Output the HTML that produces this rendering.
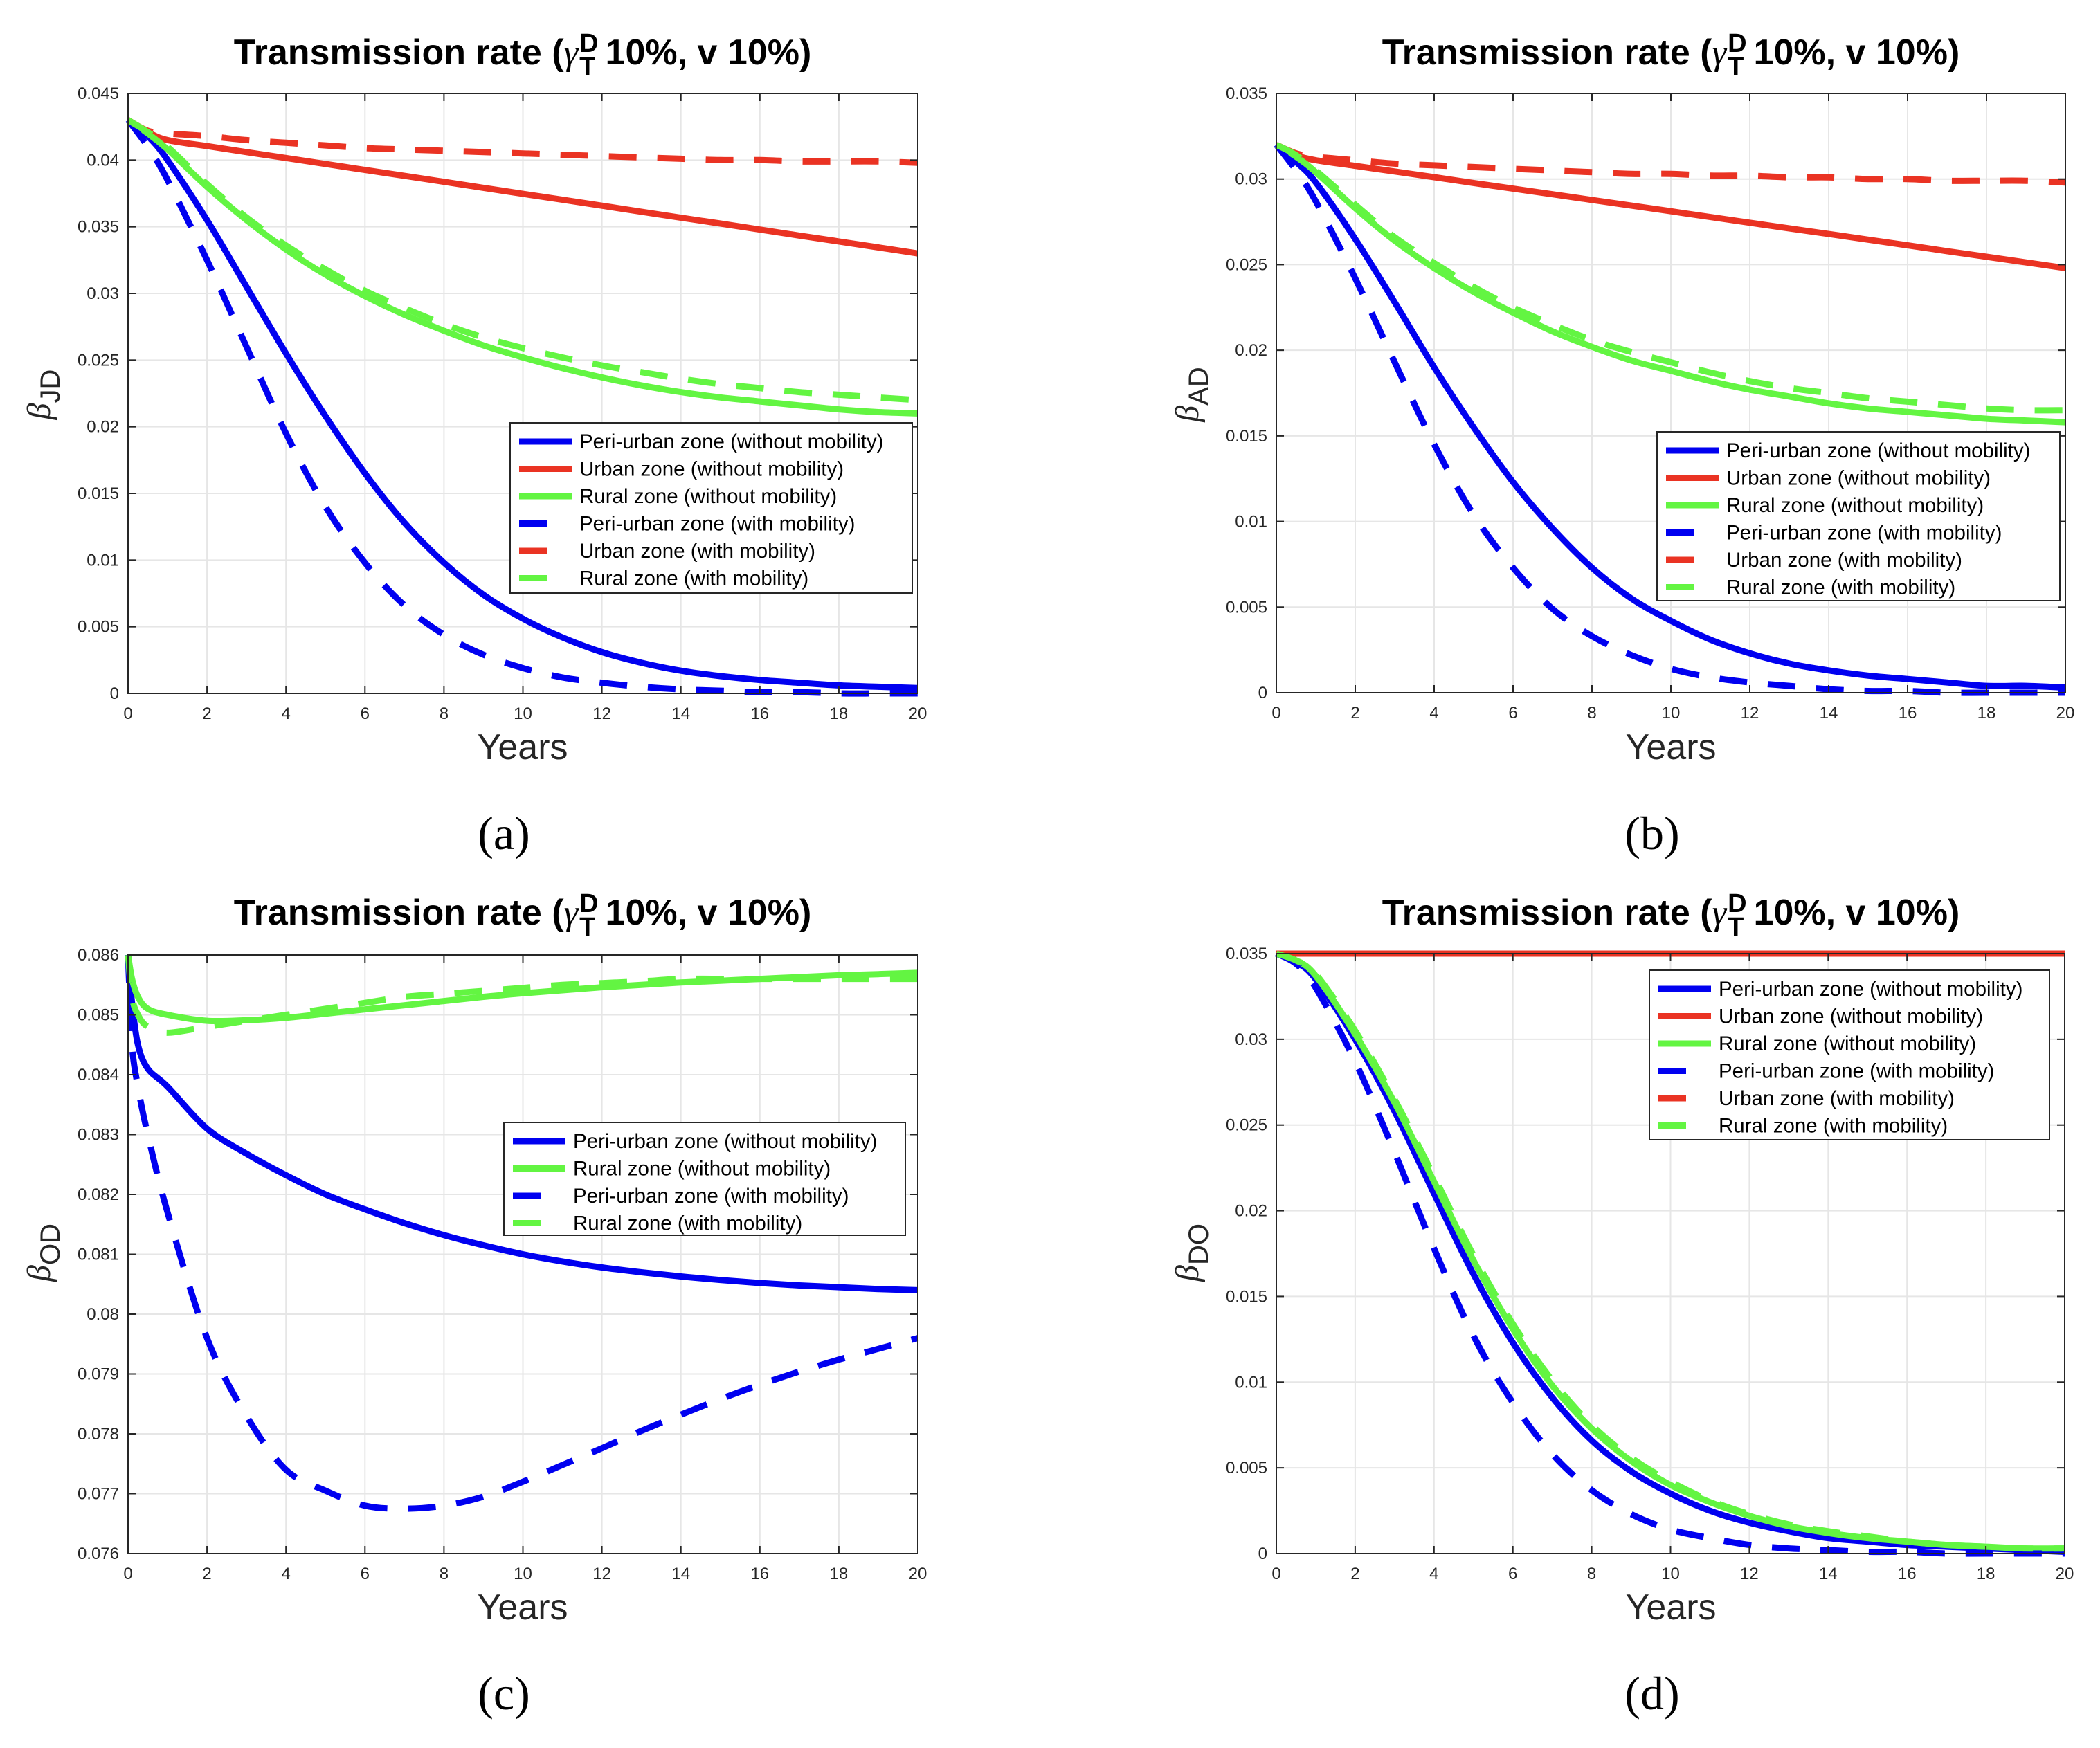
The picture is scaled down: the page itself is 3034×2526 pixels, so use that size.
<!DOCTYPE html>
<html><head><meta charset="utf-8"><style>
body{margin:0;background:#fff;width:3034px;height:2526px;position:relative;overflow:hidden;font-family:"Liberation Sans",sans-serif}
.title{position:absolute;font-weight:bold;font-size:52px;color:#000;white-space:nowrap;transform:translateX(-50%);display:flex;align-items:center}
.ss{display:inline-flex;flex-direction:column;font-size:38px;line-height:34px;margin:0 10px 0 2px;position:relative;top:4px}
.g{font-family:"Liberation Serif",serif;font-style:italic;font-weight:normal}
.xl{position:absolute;font-size:52px;color:#262626;transform:translateX(-50%)}
.cap{position:absolute;font-family:"Liberation Serif",serif;font-size:68px;color:#000;transform:translateX(-50%)}
svg{position:absolute;left:0;top:0}
</style></head><body>
<div class="title" style="left:755px;top:42px">Transmission rate (<span class="g">γ</span><span class="ss"><span>D</span><span>T</span></span>10%, v 10%)</div>
<div class="title" style="left:2414px;top:42px">Transmission rate (<span class="g">γ</span><span class="ss"><span>D</span><span>T</span></span>10%, v 10%)</div>
<div class="title" style="left:755px;top:1285px">Transmission rate (<span class="g">γ</span><span class="ss"><span>D</span><span>T</span></span>10%, v 10%)</div>
<div class="title" style="left:2414px;top:1285px">Transmission rate (<span class="g">γ</span><span class="ss"><span>D</span><span>T</span></span>10%, v 10%)</div>
<div class="xl" style="left:755px;top:1050px">Years</div>
<div class="xl" style="left:2414px;top:1050px">Years</div>
<div class="xl" style="left:755px;top:2293px">Years</div>
<div class="xl" style="left:2414px;top:2293px">Years</div>
<div class="cap" style="left:728px;top:1165px">(a)</div>
<div class="cap" style="left:2387px;top:1165px">(b)</div>
<div class="cap" style="left:728px;top:2408px">(c)</div>
<div class="cap" style="left:2387px;top:2408px">(d)</div>
<svg id="chart" width="3034" height="2526"></svg>
<script>
const years = [0,0.5,1,2,3,4,5,6,7,8,9,10,11,12,13,14,15,16,17,18,19,20];
const yearsC = [0,0.1,0.25,0.5,1,2,3,4,5,6,7,8,9,10,11,12,13,14,15,16,17,18,19,20];
const xTicks = [0,2,4,6,8,10,12,14,16,18,20];
const legendLabels6 = ["Peri-urban zone (without mobility)","Urban zone (without mobility)","Rural zone (without mobility)","Peri-urban zone (with mobility)","Urban zone (with mobility)","Rural zone (with mobility)"];
const legendLabels4 = ["Peri-urban zone (without mobility)","Rural zone (without mobility)","Peri-urban zone (with mobility)","Rural zone (with mobility)"];
// panel a
const aTicks = [0,0.005,0.01,0.015,0.02,0.025,0.03,0.035,0.04,0.045];
const aTickLabels = ["0","0.005","0.01","0.015","0.02","0.025","0.03","0.035","0.04","0.045"];
const aPeri = [0.043,0.0418,0.040,0.0355,0.0305,0.0255,0.0208,0.0165,0.0128,0.0098,0.0074,0.0056,0.0042,0.0031,0.0023,0.0017,0.0013,0.0010,0.0008,0.0006,0.0005,0.0004];
const aUrban = [0.043,0.0421,0.0415,0.04105,0.0406,0.04016,0.03971,0.03926,0.03882,0.03837,0.03792,0.03747,0.03703,0.03658,0.03613,0.03568,0.03524,0.03479,0.03434,0.0339,0.03345,0.0330];
const aRural = [0.043,0.0420,0.0408,0.0380,0.0355,0.0333,0.0314,0.0298,0.0284,0.0272,0.0261,0.0252,0.0244,0.0237,0.0231,0.0226,0.0222,0.0219,0.0216,0.0213,0.0211,0.0210];
const aPeriM = [0.043,0.0410,0.0385,0.0325,0.0260,0.0195,0.0140,0.0098,0.0066,0.0044,0.0029,0.0019,0.0012,0.0008,0.0005,0.0003,0.0002,0.0001,0.0001,0,0,0];
const aUrbanM = [0.043,0.0422,0.0420,0.0418,0.0415,0.0413,0.0411,0.0409,0.0408,0.0407,0.0406,0.0405,0.0404,0.0403,0.0402,0.0401,0.0400,0.0400,0.0399,0.0399,0.0399,0.0398];
const aRuralM = [0.043,0.0421,0.0410,0.0382,0.0357,0.0336,0.0318,0.0302,0.0289,0.0277,0.0267,0.0259,0.0252,0.0246,0.0241,0.0236,0.0232,0.0229,0.0226,0.0224,0.0222,0.0220];
// panel b
const bTicks = [0,0.005,0.01,0.015,0.02,0.025,0.03,0.035];
const bTickLabels = ["0","0.005","0.01","0.015","0.02","0.025","0.03","0.035"];
const bPeri = [0.032,0.0310,0.0298,0.0265,0.0228,0.0190,0.0155,0.0123,0.0096,0.0073,0.0055,0.0042,0.0031,0.0023,0.0017,0.0013,0.0010,0.0008,0.0006,0.0004,0.0004,0.0003];
const bUrban = [0.032,0.0314,0.0311,0.03077,0.03044,0.03011,0.02977,0.02944,0.02911,0.02878,0.02845,0.02812,0.02778,0.02745,0.02712,0.02679,0.02646,0.02613,0.02579,0.02546,0.02513,0.0248];
const bRural = [0.032,0.0313,0.0304,0.0283,0.0264,0.0248,0.0234,0.0222,0.0211,0.0202,0.0194,0.0188,0.0182,0.0177,0.0173,0.0169,0.0166,0.0164,0.0162,0.0160,0.0159,0.0158];
const bPeriM = [0.032,0.0305,0.0287,0.0242,0.0193,0.0145,0.0104,0.0073,0.0049,0.0033,0.0022,0.0014,0.0009,0.0006,0.0004,0.0002,0.0001,0.0001,0,0,0,0];
const bUrbanM = [0.032,0.0315,0.0313,0.0311,0.0309,0.0308,0.0307,0.0306,0.0305,0.0304,0.0303,0.0303,0.0302,0.0302,0.0301,0.0301,0.0300,0.0300,0.0299,0.0299,0.0299,0.0298];
const bRuralM = [0.032,0.0314,0.0305,0.0285,0.0266,0.0251,0.0237,0.0225,0.0215,0.0206,0.0199,0.0193,0.0187,0.0182,0.0178,0.0175,0.0172,0.0170,0.0168,0.0166,0.0165,0.0165];
// panel c
const cTicks = [0.076,0.077,0.078,0.079,0.08,0.081,0.082,0.083,0.084,0.085,0.086];
const cTickLabels = ["0.076","0.077","0.078","0.079","0.08","0.081","0.082","0.083","0.084","0.085","0.086"];
const cPeri = [0.086,0.0852,0.0845,0.0841,0.0838,0.0831,0.08268,0.08232,0.0820,0.08175,0.08152,0.08132,0.08115,0.0810,0.08088,0.08078,0.0807,0.08063,0.08057,0.08052,0.08048,0.08045,0.08042,0.0804];
const cRural = [0.086,0.0856,0.0853,0.0851,0.0850,0.0849,0.08491,0.08495,0.08502,0.08509,0.08516,0.08523,0.0853,0.08536,0.08541,0.08546,0.0855,0.08554,0.08557,0.0856,0.08563,0.08566,0.08568,0.0857];
const cPeriM = [0.086,0.0845,0.0838,0.0830,0.0817,0.0796,0.0783,0.0774,0.07705,0.0768,0.07675,0.0768,0.07695,0.0772,0.07748,0.07776,0.07805,0.07832,0.07858,0.07882,0.07904,0.07924,0.07942,0.0796];
const cRuralM = [0.086,0.0853,0.0850,0.0848,0.0847,0.0848,0.0849,0.0850,0.0851,0.0852,0.0853,0.08535,0.0854,0.08545,0.0855,0.08553,0.08556,0.0856,0.0856,0.0856,0.0856,0.0856,0.0856,0.0856];
// panel d
const dTicks = [0,0.005,0.01,0.015,0.02,0.025,0.03,0.035];
const dTickLabels = ["0","0.005","0.01","0.015","0.02","0.025","0.03","0.035"];
const dPeri = [0.035,0.0345,0.0335,0.0300,0.0258,0.0210,0.0163,0.0123,0.0091,0.0066,0.0048,0.0035,0.0025,0.0018,0.0013,0.0009,0.0007,0.0005,0.0004,0.0003,0.0002,0.0001];
const dUrban = [0.035,0.035,0.035,0.035,0.035,0.035,0.035,0.035,0.035,0.035,0.035,0.035,0.035,0.035,0.035,0.035,0.035,0.035,0.035,0.035,0.035,0.035];
const dRural = [0.035,0.0346,0.0337,0.0303,0.0263,0.0217,0.0171,0.0131,0.0098,0.0073,0.0054,0.0040,0.0030,0.0022,0.0016,0.0012,0.0009,0.0007,0.0005,0.0004,0.0003,0.0003];
const dPeriM = [0.035,0.0344,0.0330,0.0287,0.0234,0.0178,0.0127,0.0088,0.0058,0.0037,0.0023,0.0014,0.0009,0.0005,0.0003,0.0002,0.0001,0.0001,0,0,0,0];
const dUrbanM = [0.035,0.035,0.035,0.035,0.035,0.035,0.035,0.035,0.035,0.035,0.035,0.035,0.035,0.035,0.035,0.035,0.035,0.035,0.035,0.035,0.035,0.035];
const dRuralM = [0.035,0.0346,0.0338,0.0305,0.0265,0.0220,0.0174,0.0134,0.0101,0.0075,0.0056,0.0042,0.0031,0.0023,0.0017,0.0013,0.0010,0.0007,0.0005,0.0004,0.0003,0.0003];

const BLUE="#0000f0", RED="#ea3323", GREEN="#63f542";
const NS="http://www.w3.org/2000/svg";
const svg=document.getElementById('chart');
function mk(tag,attrs,parent){const e=document.createElementNS(NS,tag);for(const k in attrs)e.setAttribute(k,attrs[k]);(parent||svg).appendChild(e);return e;}
function smoothPath(pts){
  let d="M"+pts[0][0].toFixed(1)+","+pts[0][1].toFixed(1);
  for(let i=0;i<pts.length-1;i++){
    const p0=pts[Math.max(0,i-1)],p1=pts[i],p2=pts[i+1],p3=pts[Math.min(pts.length-1,i+2)];
    const c1=[p1[0]+(p2[0]-p0[0])/6,p1[1]+(p2[1]-p0[1])/6];
    const c2=[p2[0]-(p3[0]-p1[0])/6,p2[1]-(p3[1]-p1[1])/6];
    d+=" C"+c1[0].toFixed(1)+","+c1[1].toFixed(1)+" "+c2[0].toFixed(1)+","+c2[1].toFixed(1)+" "+p2[0].toFixed(1)+","+p2[1].toFixed(1);
  }
  return d;
}
function panel(p){
  const g=mk('g',{});
  
  
  const ymin=p.ticks[0], ymax=p.ticks[p.ticks.length-1];
  const X=v=>p.x0+(v-0)/(20-0)*(p.x1-p.x0);
  const Y=v=>p.y1-(v-ymin)/(ymax-ymin)*(p.y1-p.y0);
  xTicks.forEach(t=>{const l=mk('line',{x1:X(t),x2:X(t),y1:p.y0,y2:p.y1,stroke:'#e6e6e6','stroke-width':2},g);
    });
  p.ticks.forEach(t=>{const l=mk('line',{x1:p.x0,x2:p.x1,y1:Y(t),y2:Y(t),stroke:'#e6e6e6','stroke-width':2},g);
    });
  const clip=mk('clipPath',{id:'clip'+p.id},g);
  mk('rect',{x:p.x0-6,y:p.y0-6,width:p.x1-p.x0+12,height:p.y1-p.y0+12},clip);
  p.series.forEach(s=>{
    const pts=s.ys.map((v,i)=>[X(s.xs[i]),Y(v)]);
    const path=mk('path',{d:smoothPath(pts),fill:'none',stroke:s.color,'stroke-width':9,'stroke-dasharray':s.dash?'40 30':'none','clip-path':'url(#clip'+p.id+')'},g);
    
    
  });
  const box=mk('rect',{x:p.x0,y:p.y0,width:p.x1-p.x0,height:p.y1-p.y0,fill:'none',stroke:'#262626','stroke-width':2},g);
  
  xTicks.forEach(t=>{
    mk('line',{x1:X(t),x2:X(t),y1:p.y1,y2:p.y1-11,stroke:'#262626','stroke-width':2},g);
    mk('line',{x1:X(t),x2:X(t),y1:p.y0,y2:p.y0+11,stroke:'#262626','stroke-width':2},g);
    const tx=mk('text',{x:X(t),y:p.y1+37,'text-anchor':'middle','font-size':24,fill:'#262626','font-family':'Liberation Sans, sans-serif'},g);
    tx.textContent=String(t);
    
  });
  p.ticks.forEach((t,i)=>{
    mk('line',{x1:p.x0,x2:p.x0+11,y1:Y(t),y2:Y(t),stroke:'#262626','stroke-width':2},g);
    mk('line',{x1:p.x1,x2:p.x1-11,y1:Y(t),y2:Y(t),stroke:'#262626','stroke-width':2},g);
    const tx=mk('text',{x:p.x0-13,y:Y(t)+8,'text-anchor':'end','font-size':24,fill:'#262626','font-family':'Liberation Sans, sans-serif'},g);
    tx.textContent=p.tickLabels[i];
    
  });
  const yl=mk('text',{transform:'translate('+p.ylx+','+p.yly+') rotate(-90)','text-anchor':'middle',fill:'#262626'},g);
  
  const b=mk('tspan',{'font-family':'Liberation Serif, serif','font-style':'italic','font-size':48},yl);b.textContent='β';
  const sub=mk('tspan',{'font-family':'Liberation Sans, sans-serif','font-size':40,dy:14},yl);sub.textContent=p.ysub;
  const L=p.legend;
  const lg=mk('g',{},g);
  
  mk('rect',{x:L.x,y:L.y,width:L.w,height:L.h,fill:'#fff',stroke:'#262626','stroke-width':2},lg);
  p.series.forEach((s,i)=>{
    const cy=L.y+27+i*39.5;
    const ent=mk('g',{},lg);
    
    if(s.dash) mk('line',{x1:L.x+13,x2:L.x+53,y1:cy,y2:cy,stroke:s.color,'stroke-width':9},ent);
    else mk('line',{x1:L.x+13,x2:L.x+89,y1:cy,y2:cy,stroke:s.color,'stroke-width':9},ent);
    const tx=mk('text',{x:L.x+100,y:cy+10,'font-size':29.5,fill:'#000','font-family':'Liberation Sans, sans-serif'},ent);
    tx.textContent=p.labels[i];
  });
}
panel({id:'a',x0:185,x1:1326,y0:135,y1:1002,ticks:aTicks,tickLabels:aTickLabels,ysub:'JD',ylx:72,yly:570,
  labels:legendLabels6,legend:{x:737,y:611,w:581,h:246},
  series:[{xs:years,ys:aPeri,color:BLUE,dash:false,name:'peri-urban-no-mobility-line'},
          {xs:years,ys:aUrban,color:RED,dash:false,name:'urban-no-mobility-line'},
          {xs:years,ys:aRural,color:GREEN,dash:false,name:'rural-no-mobility-line'},
          {xs:years,ys:aPeriM,color:BLUE,dash:true,name:'peri-urban-mobility-line'},
          {xs:years,ys:aUrbanM,color:RED,dash:true,name:'urban-mobility-line'},
          {xs:years,ys:aRuralM,color:GREEN,dash:true,name:'rural-mobility-line'}]});
panel({id:'b',x0:1844,x1:2984,y0:135,y1:1001,ticks:bTicks,tickLabels:bTickLabels,ysub:'AD',ylx:1731,yly:570,
  labels:legendLabels6,legend:{x:2394,y:624,w:582,h:244},
  series:[{xs:years,ys:bPeri,color:BLUE,dash:false,name:'peri-urban-no-mobility-line'},
          {xs:years,ys:bUrban,color:RED,dash:false,name:'urban-no-mobility-line'},
          {xs:years,ys:bRural,color:GREEN,dash:false,name:'rural-no-mobility-line'},
          {xs:years,ys:bPeriM,color:BLUE,dash:true,name:'peri-urban-mobility-line'},
          {xs:years,ys:bUrbanM,color:RED,dash:true,name:'urban-mobility-line'},
          {xs:years,ys:bRuralM,color:GREEN,dash:true,name:'rural-mobility-line'}]});
panel({id:'c',x0:185,x1:1326,y0:1380,y1:2245,ticks:cTicks,tickLabels:cTickLabels,ysub:'OD',ylx:72,yly:1810,
  labels:legendLabels4,legend:{x:728,y:1622,w:580,h:163},
  series:[{xs:yearsC,ys:cPeri,color:BLUE,dash:false,name:'peri-urban-no-mobility-line'},
          {xs:yearsC,ys:cRural,color:GREEN,dash:false,name:'rural-no-mobility-line'},
          {xs:yearsC,ys:cPeriM,color:BLUE,dash:true,name:'peri-urban-mobility-line'},
          {xs:yearsC,ys:cRuralM,color:GREEN,dash:true,name:'rural-mobility-line'}]});
panel({id:'d',x0:1844,x1:2983,y0:1378,y1:2245,ticks:dTicks,tickLabels:dTickLabels,ysub:'DO',ylx:1731,yly:1810,
  labels:legendLabels6,legend:{x:2383,y:1402,w:578,h:245},
  series:[{xs:years,ys:dPeri,color:BLUE,dash:false,name:'peri-urban-no-mobility-line'},
          {xs:years,ys:dUrban,color:RED,dash:false,name:'urban-no-mobility-line'},
          {xs:years,ys:dRural,color:GREEN,dash:false,name:'rural-no-mobility-line'},
          {xs:years,ys:dPeriM,color:BLUE,dash:true,name:'peri-urban-mobility-line'},
          {xs:years,ys:dUrbanM,color:RED,dash:true,name:'urban-mobility-line'},
          {xs:years,ys:dRuralM,color:GREEN,dash:true,name:'rural-mobility-line'}]});
</script>
</body></html>
